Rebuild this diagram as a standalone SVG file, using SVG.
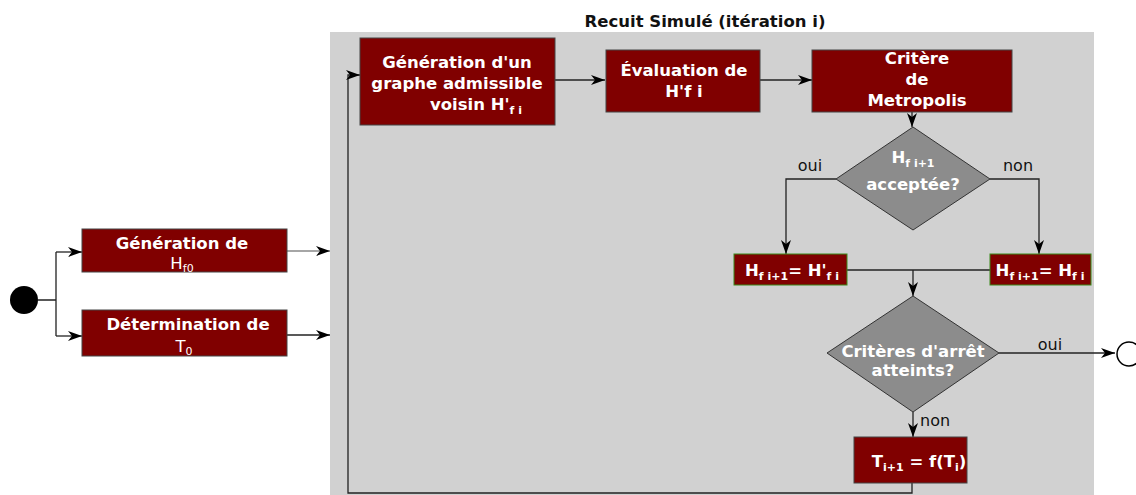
<svg xmlns="http://www.w3.org/2000/svg" width="1136" height="495" viewBox="0 0 1136 495">
<style>
.box{fill:#800000;stroke:#444;stroke-width:1}
.gbox{fill:#800000;stroke:#3a8a1a;stroke-width:1}
.dia{fill:#8c8c8c;stroke:#333;stroke-width:1}
.t{font-family:"DejaVu Sans",sans-serif;font-size:16.5px;font-weight:bold;fill:#fff;text-anchor:middle}
.n{font-family:"DejaVu Sans",sans-serif;font-size:16.5px;fill:#fff;text-anchor:middle}
.lbl{font-family:"DejaVu Sans",sans-serif;font-size:16px;fill:#111}
.c{fill:none;stroke:#222;stroke-width:1.3}
.sub{font-size:11px}
</style>
<defs>
<marker id="ar" viewBox="0 0 14 10" refX="14" refY="5" markerWidth="14" markerHeight="10" markerUnits="userSpaceOnUse" orient="auto">
<path d="M0,0 L14,5 L0,10 L4,5 Z" fill="#000"/>
</marker>
</defs>
<rect id="cluster" x="330" y="32" width="764" height="470" fill="#d1d1d1"/>
<text x="705" y="27" class="lbl" style="font-weight:bold;text-anchor:middle;font-size:16.5px">Recuit Simulé (itération i)</text>

<g id="connectors">
<path class="c" d="M38,300 H56 M56,252 V336"/>
<path class="c" d="M56,252 H82" marker-end="url(#ar)"/>
<path class="c" d="M56,336 H82" marker-end="url(#ar)"/>
<path class="c" style="stroke:#888" d="M287,251 H330" marker-end="url(#ar)"/>
<path class="c" d="M287,335 H330" marker-end="url(#ar)"/>
<path class="c" d="M555,80 H605" marker-end="url(#ar)"/>
<path class="c" d="M760,80 H812" marker-end="url(#ar)"/>
<path class="c" d="M912,112 V127" marker-end="url(#ar)"/>
<path class="c" d="M836,179 H786 V254" marker-end="url(#ar)"/>
<path class="c" d="M990,179 H1039 V254" marker-end="url(#ar)"/>
<path class="c" d="M847,270 H990"/>
<path class="c" d="M913,270 V296" marker-end="url(#ar)"/>
<path class="c" d="M999,353 H1115" marker-end="url(#ar)"/>
<path class="c" d="M913,412 V437" marker-end="url(#ar)"/>
<path class="c" d="M912,483 V493 H348 V75 H360" marker-end="url(#ar)"/>
</g>

<text x="810" y="171" class="lbl" style="text-anchor:middle">oui</text>
<text x="1018" y="171" class="lbl" style="text-anchor:middle">non</text>
<text x="1050" y="350" class="lbl" style="text-anchor:middle">oui</text>
<text x="920" y="426" class="lbl">non</text>

<g id="start"><circle cx="24" cy="300" r="14" fill="#000"/></g>
<g id="end"><circle cx="1129" cy="354" r="12" fill="#fff" stroke="#000" stroke-width="1.5"/></g>

<g id="gen-hf0">
<rect class="box" x="82" y="229" width="205" height="43"/>
<text x="182" y="249" class="t">Génération de</text>
<text x="182" y="269" class="n">H<tspan class="sub" dy="3">f0</tspan></text>
</g>
<g id="det-t0">
<rect class="box" x="82" y="310" width="205" height="46"/>
<text x="188" y="330" class="t">Détermination de</text>
<text x="184" y="352" class="n">T<tspan class="sub" dy="3">0</tspan></text>
</g>
<g id="gen-voisin">
<rect class="box" x="360" y="38" width="195" height="87"/>
<text x="457" y="68" class="t">Génération d'un</text>
<text x="457" y="89" class="t">graphe admissible</text>
<text x="430" y="110" class="t" style="text-anchor:start">voisin H'<tspan class="sub" dy="4">f i</tspan></text>
</g>
<g id="eval">
<rect class="box" x="606" y="50" width="154" height="62"/>
<text x="684" y="76" class="t">Évaluation de</text>
<text x="684" y="97" class="t">H'f i</text>
</g>
<g id="metropolis">
<rect class="box" x="812" y="50" width="200" height="62"/>
<text x="917" y="64" class="t">Critère</text>
<text x="917" y="85" class="t">de</text>
<text x="917" y="106" class="t">Metropolis</text>
</g>
<g id="accept">
<polygon class="dia" points="913,127 990,179 913,230 836,179"/>
<text x="913" y="163" class="t">H<tspan class="sub" dy="4">f i+1</tspan></text>
<text x="913" y="190" class="t">acceptée?</text>
</g>
<g id="hf-new">
<rect class="gbox" x="734" y="254" width="113" height="31"/>
<text x="792" y="276" class="t">H<tspan class="sub" dy="4">f i+1</tspan><tspan dy="-4">= H'</tspan><tspan class="sub" dy="4">f i</tspan></text>
</g>
<g id="hf-old">
<rect class="gbox" x="990" y="254" width="101" height="31"/>
<text x="1040" y="276" class="t">H<tspan class="sub" dy="4">f i+1</tspan><tspan dy="-4">= H</tspan><tspan class="sub" dy="4">f i</tspan></text>
</g>
<g id="stop">
<polygon class="dia" points="913,296 999,353 913,412 827,353"/>
<text x="913" y="357" class="t">Critères d'arrêt</text>
<text x="913" y="376" class="t">atteints?</text>
</g>
<g id="temp">
<rect class="box" x="854" y="437" width="113" height="46"/>
<text x="919" y="467" class="t">T<tspan class="sub" dy="4">i+1</tspan><tspan dy="-4"> = f(T</tspan><tspan class="sub" dy="4">i</tspan><tspan dy="-4">)</tspan></text>
</g>
</svg>
